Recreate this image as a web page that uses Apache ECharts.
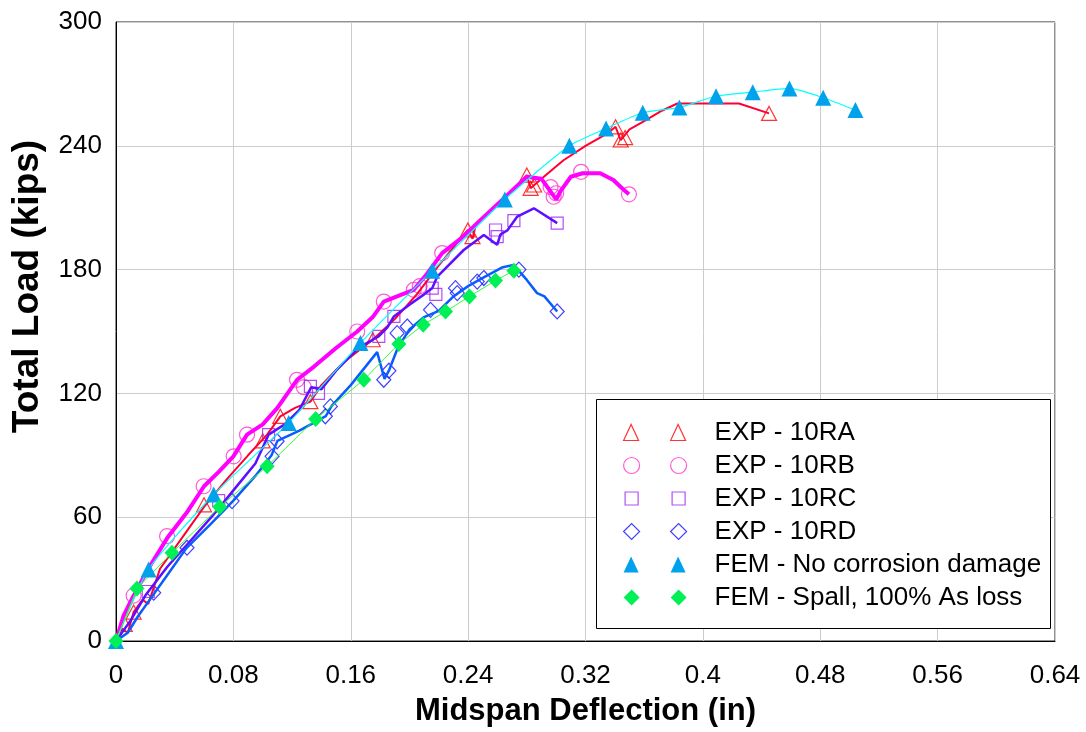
<!DOCTYPE html>
<html>
<head>
<meta charset="utf-8">
<title>Total Load vs Midspan Deflection</title>
<script src="https://cdn.jsdelivr.net/npm/echarts@6/dist/echarts.min.js"></script>
<style>
html, body { margin: 0; padding: 0; background: #fff; }
#main { width: 1086px; height: 732px; }
</style>
</head>
<body>
<div id="main"></div>
<script>
// axes
var xTicks = [0, 0.08, 0.16, 0.24, 0.32, 0.4, 0.48, 0.56, 0.64];
var yTicks = [0, 60, 120, 180, 240, 300];

var seriesNames = ['EXP - 10RA', 'EXP - 10RB', 'EXP - 10RC', 'EXP - 10RD',
	'FEM - No corrosion damage', 'FEM - Spall, 100% As loss'];

// EXP - 10RA : measured curve + marker points
var curveRA = [[0,0],[0.004,6],[0.008,4],[0.012,14],[0.018,20],[0.022,18],[0.03,35],[0.045,50],[0.06,65],[0.075,78],
	[0.09,90],[0.103,100],[0.112,108.9],[0.122,113],[0.1325,116],[0.14,124],[0.155,135],[0.175,146],[0.19,156],
	[0.205,168],[0.22,182],[0.2398,199.2],[0.243,195],[0.245,201],[0.255,208],[0.27,218],[0.28,225.8],[0.2826,219.4],
	[0.29,224],[0.305,233],[0.32,240],[0.335,246],[0.3405,249.2],[0.344,242.8],[0.35,248],[0.36,252],[0.372,257],
	[0.3826,260.5],[0.4246,260.5],[0.4451,255.7]];
var markRA = [[0.006,8],[0.012,14],[0.06,66],[0.1,97],[0.112,108.9],[0.1325,116],[0.175,146],[0.2398,199.2],[0.243,196],
	[0.28,225.8],[0.2826,219.4],[0.285,221],[0.3405,249.2],[0.344,242.8],[0.347,244],[0.4451,255.7]];

// EXP - 10RB
var curveRB = [[0,0],[0.005,12],[0.012,22],[0.022,35],[0.035,50],[0.048,62],[0.06,75],[0.07,82],[0.08,89.5],
	[0.0893,100],[0.1,105],[0.11,113],[0.1234,126.6],[0.135,133],[0.15,142],[0.1644,150],[0.175,157],[0.1825,164.5],
	[0.195,168],[0.203,170.2],[0.212,178],[0.2223,188],[0.235,195],[0.25,205],[0.265,215],[0.28,225],[0.29,224],
	[0.296,218],[0.3,214],[0.303,218],[0.31,225],[0.318,226.7],[0.33,226.7],[0.339,223.4],[0.344,220],[0.3496,216.5]];
var markRB = [[0.012,22],[0.0348,50.8],[0.0597,75],[0.0802,89.5],[0.0893,100],[0.1234,126.6],[0.128,123],[0.1644,150],
	[0.1825,164.5],[0.203,170.2],[0.207,172],[0.2223,188],[0.2962,220],[0.2983,215.3],[0.3,217],[0.317,227.4],[0.3496,216.5]];

// EXP - 10RC
var curveRC = [[0,0],[0.01,10],[0.02,22],[0.035,36],[0.05,48],[0.065,60],[0.08,73],[0.095,86],[0.104,100],[0.115,105],
	[0.125,112],[0.133,123],[0.14,122],[0.15,131],[0.165,142],[0.179,147.6],[0.185,152],[0.1894,157.3],[0.2,163],
	[0.21,168],[0.2155,171],[0.219,176.6],[0.237,189.5],[0.2507,196.8],[0.2598,192],[0.262,197],[0.2667,199],
	[0.2735,205.7],[0.2848,209.7],[0.3007,202.5]];
var markRC = [[0.022,24],[0.07,68],[0.104,100],[0.1325,123.4],[0.138,120],[0.1791,147.6],[0.1894,157.3],[0.2155,171],
	[0.218,168],[0.2587,199.2],[0.2598,196],[0.2712,203.7],[0.3007,202.5]];

// EXP - 10RD
var curveRD = [[0,0],[0.008,4],[0.015,12],[0.025,22],[0.035,32],[0.048,45],[0.065,57],[0.08,68],[0.095,80],
	[0.106,90],[0.11,97],[0.125,102],[0.143,109],[0.147,114],[0.16,124],[0.178,140],[0.183,127],[0.186,131],
	[0.192,142],[0.2,151],[0.21,157],[0.22,160],[0.23,167],[0.24,172],[0.25,176],[0.263,181],[0.271,182.3],
	[0.28,175],[0.287,168.6],[0.292,167],[0.3007,159.7]];
var markRD = [[0.0257,23.4],[0.0484,45.2],[0.0791,67.8],[0.1064,89.5],[0.1098,96.8],[0.1427,108.9],[0.1461,113.7],
	[0.1825,126.6],[0.186,131],[0.1916,149.2],[0.1985,152.4],[0.2144,160.5],[0.2314,171],[0.2326,168.6],
	[0.2462,174.2],[0.2507,175.9],[0.2746,180],[0.3007,159.7]];

// FEM results
var femNoDamage = [[0,0],[0.0222,34.7],[0.0666,71],[0.1177,105.7],[0.1666,144.4],[0.2155,179.5],[0.265,214],
	[0.309,240],[0.334,248.4],[0.359,256],[0.384,258.6],[0.409,264],[0.434,266],[0.459,267.8],[0.482,263.3],[0.504,257.3]];
var femSpall = [[0,0],[0.0143,25.4],[0.0382,42.8],[0.0707,65],[0.103,84.7],[0.1361,107.6],[0.1689,126.6],
	[0.1928,144],[0.2094,153.3],[0.2246,159.7],[0.2409,167],[0.2587,174.7],[0.2712,179.5]];

var font = 'Arial, "Liberation Sans", Helvetica, sans-serif';
var clear = 'rgba(255,255,255,0)';

// 图例图标 (two markers side by side, box 63x16)
var iconTri = 'path://M0,16L7.5,0L15,16Z M47,16L54.5,0L62,16Z M63,16';
var iconCircle = 'path://M0,8A8,8 0 1 1 16,8A8,8 0 1 1 0,8Z M47,8A8,8 0 1 1 63,8A8,8 0 1 1 47,8Z';
var iconSquare = 'path://M0,0 M63,16 M1.5,1.5L14.5,1.5L14.5,14.5L1.5,14.5Z M48.5,1.5L61.5,1.5L61.5,14.5L48.5,14.5Z';
var iconDiamond = 'path://M0,8L8,0L16,8L8,16Z M47,8L55,0L63,8L55,16Z';

function expLine(data, color, width) {
	return {
		type: 'line', data: data, showSymbol: false, symbol: 'none',
		lineStyle: { color: color, width: width }, silent: true, animation: false
	};
}
function expMark(name, data, symbol, size, color) {
	return {
		name: name, type: 'scatter', data: data, symbol: symbol, symbolSize: size,
		itemStyle: { color: clear, borderColor: color, borderWidth: 1.2 },
		silent: true, animation: false
	};
}

var myChart = echarts.init(document.getElementById('main'));
var option = {
	backgroundColor: '#fff',
	animation: false,
	textStyle: { fontFamily: font },
	grid: {
		left: 116, top: 22, width: 939, height: 620,
		show: true, borderColor: '#222', borderWidth: 1
	},
	xAxis: {
		type: 'value',
		min: xTicks[0], max: xTicks[xTicks.length - 1], interval: xTicks[1] - xTicks[0],
		name: 'Midspan Deflection (in)', nameLocation: 'middle', nameGap: 55,
		nameTextStyle: { fontSize: 31, fontWeight: 'bold', color: '#000', fontFamily: font },
		axisLine: { lineStyle: { color: '#000', width: 1 } },
		axisTick: { show: false },
		axisLabel: {
			fontSize: 26, color: '#000', margin: 22, fontFamily: font,
			formatter: function (v) { return String(+v.toFixed(2)); }
		},
		splitLine: { show: true, lineStyle: { color: '#cccccc', width: 1 } }
	},
	yAxis: {
		type: 'value',
		min: yTicks[0], max: yTicks[yTicks.length - 1], interval: yTicks[1] - yTicks[0],
		name: 'Total Load (kips)', nameLocation: 'middle', nameGap: 70,
		nameTextStyle: { fontSize: 37, fontWeight: 'bold', color: '#000', fontFamily: font, padding: [0, 0, 0, 90] },
		axisLine: { show: true, lineStyle: { color: '#000', width: 1 } },
		axisTick: { show: false },
		axisLabel: { fontSize: 26, color: '#000', margin: 14, fontFamily: font },
		splitLine: { show: true, lineStyle: { color: '#cccccc', width: 1 } }
	},
	legend: {
		orient: 'vertical', left: 623, top: 416, padding: 0, itemGap: 0,
		itemWidth: 63, itemHeight: 16, selectedMode: false, z: 10,
		textStyle: { fontSize: 26, color: '#000', fontFamily: font, lineHeight: 33, padding: [0, 0, 0, 23] },
		data: [
			{ name: seriesNames[0], icon: iconTri, itemStyle: { color: clear, borderColor: '#ff0000', borderWidth: 1.2 } },
			{ name: seriesNames[1], icon: iconCircle, itemStyle: { color: clear, borderColor: '#ff33cc', borderWidth: 1.2 } },
			{ name: seriesNames[2], icon: iconSquare, itemStyle: { color: clear, borderColor: '#a020f0', borderWidth: 1.2 } },
			{ name: seriesNames[3], icon: iconDiamond, itemStyle: { color: clear, borderColor: '#1010ff', borderWidth: 1.2 } },
			{ name: seriesNames[4], icon: iconTri, itemStyle: { color: '#00a2ec', borderWidth: 0 } },
			{ name: seriesNames[5], icon: iconDiamond, itemStyle: { color: '#00f055', borderWidth: 0 } }
		]
	},
	graphic: [{
		type: 'rect', z: 5,
		shape: { x: 596.5, y: 399.5, width: 454, height: 229 },
		style: { fill: '#fff', stroke: '#000', lineWidth: 1 }
	}],
	series: [
		expLine(curveRA, '#ff0033', 2),
		expMark(seriesNames[0], markRA, 'triangle', [15, 14], '#ff0000'),
		expLine(curveRB, '#ff00ff', 4),
		expMark(seriesNames[1], markRB, 'circle', 15, '#ff33cc'),
		expLine(curveRC, '#5c10ff', 2.5),
		expMark(seriesNames[2], markRC, 'rect', 12, '#a020f0'),
		expLine(curveRD, '#0a5cff', 2.5),
		expMark(seriesNames[3], markRD, 'diamond', [14, 15], '#1010ff'),
		{
			name: seriesNames[4], type: 'line', data: femNoDamage, smooth: 0.2,
			symbol: 'triangle', symbolSize: [16, 16], showSymbol: true,
			itemStyle: { color: '#00a2ec' }, lineStyle: { color: '#00ffff', width: 1.2 },
			silent: true, animation: false
		},
		{
			name: seriesNames[5], type: 'line', data: femSpall,
			symbol: 'diamond', symbolSize: [15, 16], showSymbol: true,
			itemStyle: { color: '#00f055' }, lineStyle: { color: '#33ff33', width: 1 },
			silent: true, animation: false
		}
	]
};
myChart.setOption(option);

window.addEventListener('resize', function () {
	myChart.resize();
});
</script>
</body>
</html>
